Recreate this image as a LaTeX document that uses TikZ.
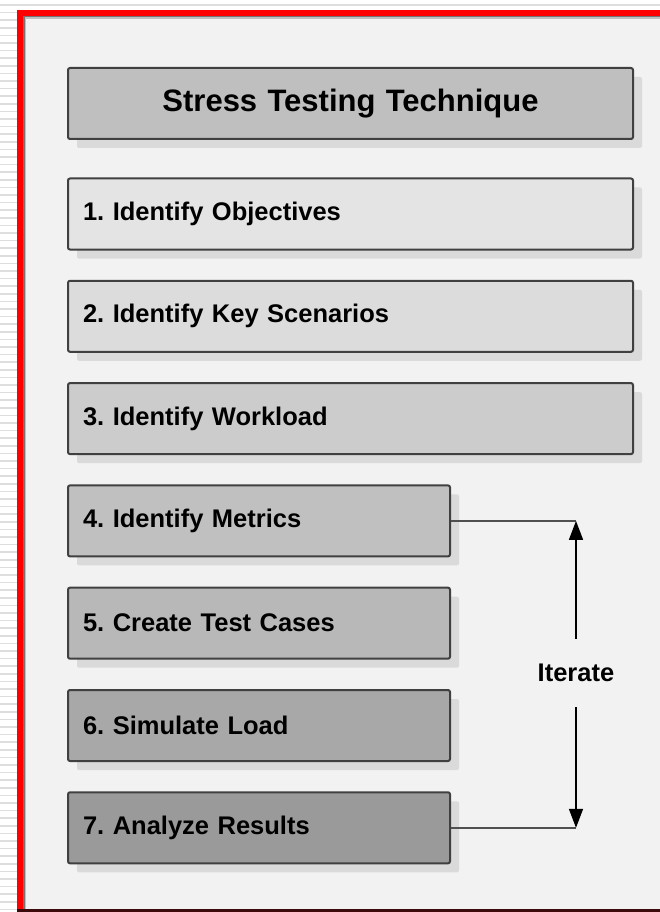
\documentclass[tikz,border=0pt]{standalone}
\usepackage{fontspec}
\setmainfont{Liberation Sans}
\usepackage{tikz}
\usetikzlibrary{
  arrows.meta,
  calc,
  positioning,
  shadows,
}
\frenchspacing
\definecolor{framered}{RGB}{255, 0, 0}
\definecolor{framedark}{RGB}{60, 10, 10}
\definecolor{panelgray}{RGB}{242, 242, 242}
\definecolor{stripegray}{RGB}{222, 222, 222}
\definecolor{shadowgray}{RGB}{218, 218, 218}
\definecolor{boxline}{RGB}{64, 64, 64}
\definecolor{linkgray}{RGB}{80, 80, 80}
\tikzstyle{stepbox} = [
  draw=boxline,
  line width=2pt,
  rounded corners=2pt,
  minimum height=71pt,
  inner xsep=15pt,
  text width=352pt,
  align=left,
  font=\fontsize{25.5pt}{30pt}\selectfont\bfseries,
  drop shadow={shadow xshift=9pt, shadow yshift=-9pt, fill=shadowgray, opacity=1},
]
\tikzstyle{widebox} = [
  stepbox,
  text width=535pt,
]
\tikzstyle{link} = [
  line width=2.2pt,
  linkgray,
]
\tikzstyle{iterarrow} = [
  -{Triangle[length=19pt, width=14pt]},
  line width=1.6pt,
  black,
]

\begin{document}
\frenchspacing
\begin{tikzpicture}[x=1pt, y=-1pt]

        \useasboundingbox (0,0) rectangle (660,912);

        \fill [white] (0,0) rectangle (660,912);

        % striped page edge
        \draw [stripegray, line width=1.5pt] (0,5) -- (660,5);
        \foreach \y in {12.6,20.2,...,912} {
          \draw [stripegray, line width=1.5pt] (0,\y) -- (17,\y);
        }

        \fill [framered] (17,10) rectangle (660,912);

        \fill [framedark] (17,909) rectangle (660,912);

        \fill [panelgray] (23,16) rectangle (660,909);

        \fill [black!55] (23,16) rectangle (24.5,909);
        \fill [black!55] (23,16) rectangle (660,17.5);
        \fill [black!25] (24.5,17.5) rectangle (26,909);
        \fill [black!25] (24.5,17.5) rectangle (660,19);

        \node [widebox, fill=black!25, align=center, text width=535pt,
               font=\fontsize{31pt}{36pt}\selectfont\bfseries]
              (title) at (350.5,103.5) {Stress Testing Technique};

        \node [widebox, fill={rgb,255:red,228;green,228;blue,228}]
              (step1) at (350.5,214) {1. Identify Objectives};

        \node [widebox, fill={rgb,255:red,220;green,220;blue,220}]
              (step2) at (350.5,316.3) {2. Identify Key Scenarios};

        \node [widebox, fill={rgb,255:red,204;green,204;blue,204}]
              (step3) at (350.5,418.6) {3. Identify Workload};

        \node [stepbox, fill={rgb,255:red,192;green,192;blue,192}]
              (step4) at (259,520.9) {4. Identify Metrics};

        \node [stepbox, fill={rgb,255:red,184;green,184;blue,184}]
              (step5) at (259,623.2) {5. Create Test Cases};

        \node [stepbox, fill={rgb,255:red,168;green,168;blue,168}]
              (step6) at (259,725.5) {6. Simulate Load};

        \node [stepbox, fill={rgb,255:red,154;green,154;blue,154}]
              (step7) at (259,827.8) {7. Analyze Results};

        \node [minimum height=68pt, inner sep=0pt,
               font=\fontsize{25.5pt}{30pt}\selectfont\bfseries]
              (iter) at (576,673) {Iterate};

        \coordinate (turnup) at (step4.east -| iter);
        \coordinate (turndown) at (step7.east -| iter);

        \draw [link] (step4.east) -- (turnup);
        \draw [link] (step7.east) -- (turndown);

        \draw [iterarrow] (iter.north) -- (turnup);
        \draw [iterarrow] (iter.south) -- (turndown);
      \end{tikzpicture}
\end{document}
